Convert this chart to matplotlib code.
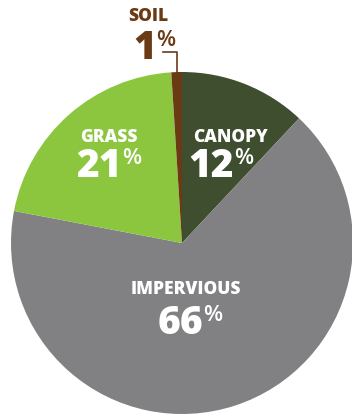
import matplotlib.pyplot as plt

# land cover shares
categories = ['CANOPY', 'IMPERVIOUS', 'GRASS', 'SOIL']
values = [12, 66, 21, 1]
colors = ['#3f4e2f', '#818183', '#8cc63f', '#6a3a15']

W, H = 352, 417
fig = plt.figure(figsize=(W / 100, H / 100), dpi=100)
ax = fig.add_axes([0, 0, 1, 1])

cx, cy, r = 182, H - 243, 171
ax.pie(values, colors=colors, startangle=90, counterclock=False,
       center=(cx, cy), radius=r, frame=True)
ax.set_xlim(0, W)
ax.set_ylim(0, H)
ax.set_aspect('equal')
ax.axis('off')

font = 'Open Sans'
# (label x, label y, split x between number and %, number top y) in pixel space
spots = {
    'CANOPY': (231, 137, 234, 147),
    'IMPERVIOUS': (186, 290, 203, 304),
    'GRASS': (109, 137, 122, 147),
    'SOIL': (148, 16, 156, 29),
}

for cat, val, col in zip(categories, values, colors):
    lx, ly, sx, ny = spots[cat]
    tc = col if cat == 'SOIL' else 'white'
    ax.text(lx, H - ly, cat, ha='center', va='center', color=tc,
            fontsize=12.5, fontweight='heavy', family=font)
    num = ax.text(sx, H - ny, str(val), ha='right', va='top', color=tc,
                  fontsize=28, fontweight='heavy', family=font)
    # superscript percent sign, top aligned with the digits
    ax.annotate('%', xy=(1.0, 1.0), xycoords=num, ha='left', va='baseline',
                xytext=(0, -17), textcoords='offset pixels',
                color=tc, fontsize=16, fontweight='semibold', family=font)

# leader line for soil
ax.plot([163, 177, 177], [H - 52, H - 52, H - 74], color=colors[3], lw=1.2)

fig.savefig('out.png', dpi=100)
